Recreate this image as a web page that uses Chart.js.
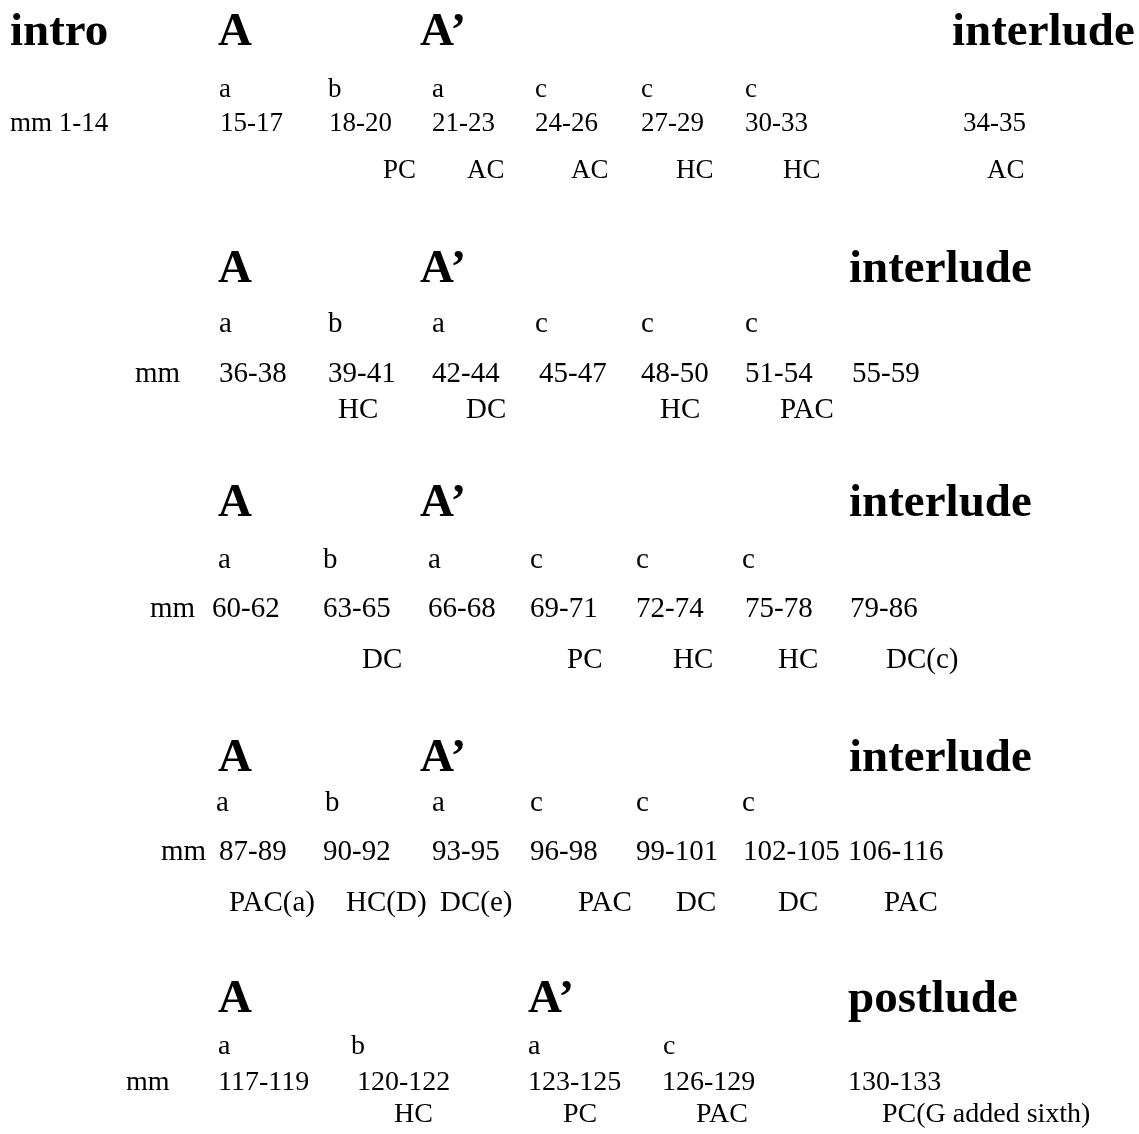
<!DOCTYPE html>
<html>
<head>
<meta charset="utf-8">
<script src="https://cdn.jsdelivr.net/npm/chart.js@4"></script>
<style>
  html, body { margin: 0; padding: 0; background: #ffffff; }
  #wrap { position: relative; width: 1139px; height: 1134px; }
</style>
</head>
<body>
<div id="wrap"><canvas id="c"></canvas></div>
<script>
// ---- Data: section labels per block and their column values (x) ----
const headingLabels = [
  ["intro", "A", "A\u2019", "interlude"],
  ["A", "A\u2019", "interlude"],
  ["A", "A\u2019", "interlude"],
  ["A", "A\u2019", "interlude"],
  ["A", "A\u2019", "postlude"]
];
const headingX = [
  [10, 218, 420, 952],
  [218, 420, 849],
  [218, 420, 849],
  [218, 420, 849],
  [218, 528, 848]
];

const phraseLabels = [
  ["a", "b", "a", "c", "c", "c"],
  ["a", "b", "a", "c", "c", "c"],
  ["a", "b", "a", "c", "c", "c"],
  ["a", "b", "a", "c", "c", "c"],
  ["a", "b", "a", "c"]
];
const phraseX = [
  [219, 328, 432, 535, 641, 745],
  [219, 328, 432, 535, 641, 745],
  [218, 323, 428, 530, 636, 742],
  [216, 325, 432, 530, 636, 742],
  [218, 351, 528, 663]
];

const measureLabels = [
  ["mm 1-14", "15-17", "18-20", "21-23", "24-26", "27-29", "30-33", "34-35"],
  ["mm", "36-38", "39-41", "42-44", "45-47", "48-50", "51-54", "55-59"],
  ["mm", "60-62", "63-65", "66-68", "69-71", "72-74", "75-78", "79-86"],
  ["mm", "87-89", "90-92", "93-95", "96-98", "99-101", "102-105", "106-116"],
  ["mm", "117-119", "120-122", "123-125", "126-129", "130-133"]
];
const measureX = [
  [10, 220, 329, 432, 535, 641, 745, 963],
  [135, 219, 328, 432, 539, 641, 745, 852],
  [150, 212, 323, 428, 530, 636, 745, 850],
  [161, 219, 323, 432, 530, 636, 743, 848],
  [126, 218, 357, 528, 662, 848]
];

const cadenceLabels = [
  ["PC", "AC", "AC", "HC", "HC", "AC"],
  ["HC", "DC", "HC", "PAC"],
  ["DC", "PC", "HC", "HC", "DC(c)"],
  ["PAC(a)", "HC(D)", "DC(e)", "PAC", "DC", "DC", "PAC"],
  ["HC", "PC", "PAC", "PC(G added sixth)"]
];
const cadenceX = [
  [383, 467, 571, 676, 783, 987],
  [338, 466, 660, 780],
  [362, 567, 673, 778, 886],
  [229, 346, 440, 578, 676, 778, 884],
  [394, 563, 696, 882]
];

// row values (y) per block: heading, phrase, measures, cadences
const rowY = [
  [45, 97, 131, 178],
  [282, 332, 382, 418],
  [516, 568, 617, 668],
  [771, 811, 860, 911],
  [1012, 1054, 1090, 1122]
];

// ---- Styles (kept separate from data) ----
const SERIF = "'Liberation Serif', 'Times New Roman', serif";
const headFont = "bold 47px " + SERIF;
const smallSize = [27, 29, 29, 29, 28];

function buildPoints(labels, xs, rowIndex) {
  const pts = [];
  labels.forEach((row, b) => {
    row.forEach((t, i) => pts.push({ x: xs[b][i], y: rowY[b][rowIndex], t: t, b: b }));
  });
  return pts;
}

const datasets = [
  { label: "sections", data: buildPoints(headingLabels, headingX, 0), kind: "head" },
  { label: "phrases", data: buildPoints(phraseLabels, phraseX, 1), kind: "small" },
  { label: "measures", data: buildPoints(measureLabels, measureX, 2), kind: "small" },
  { label: "cadences", data: buildPoints(cadenceLabels, cadenceX, 3), kind: "small" }
].map(d => Object.assign(d, { pointRadius: 0, pointHoverRadius: 0, showLine: false }));

const textPlugin = {
  id: "textLabels",
  afterDatasetsDraw(chart) {
    const ctx = chart.ctx;
    ctx.save();
    ctx.fillStyle = "#000000";
    ctx.textAlign = "left";
    ctx.textBaseline = "alphabetic";
    chart.data.datasets.forEach((ds, di) => {
      const meta = chart.getDatasetMeta(di);
      meta.data.forEach((el, j) => {
        const p = ds.data[j];
        ctx.font = ds.kind === "head" ? headFont : (smallSize[p.b] + "px " + SERIF);
        ctx.fillText(p.t, el.x, el.y);
      });
    });
    ctx.restore();
  }
};

new Chart(document.getElementById("c"), {
  type: "scatter",
  data: { datasets: datasets },
  options: {
    responsive: true,
    maintainAspectRatio: false,
    animation: false,
    layout: { padding: 0 },
    scales: {
      x: { type: "linear", min: 0, max: 1139, display: false },
      y: { type: "linear", min: 0, max: 1134, reverse: true, display: false }
    },
    plugins: { legend: { display: false }, tooltip: { enabled: false } },
    events: []
  },
  plugins: [textPlugin]
});
</script>
</body>
</html>
